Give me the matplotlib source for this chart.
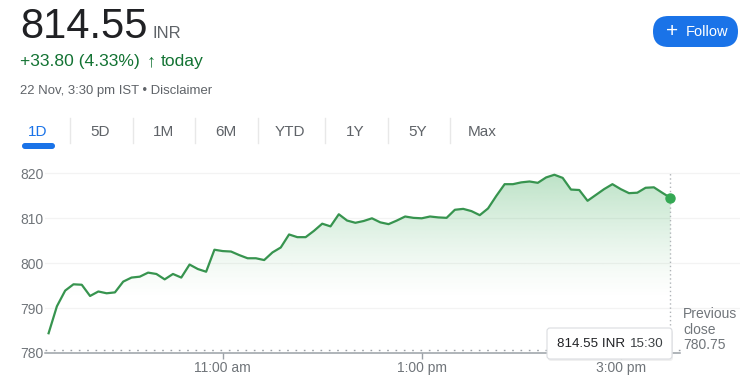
import numpy as np
import pandas as pd
import matplotlib
matplotlib.use("Agg")
import matplotlib.pyplot as plt
from matplotlib.patches import FancyBboxPatch, Polygon

plt.rcParams['font.family'] = ['Liberation Sans', 'DejaVu Sans']

# ---------------- data ----------------
times = pd.date_range("2023-11-22 09:15", "2023-11-22 15:30", freq="5min")
prices = [784.4, 790.4, 793.9, 795.3, 795.2, 792.7, 793.7, 793.3, 793.5, 795.9,
          796.8, 797.0, 797.9, 797.6, 796.4, 797.6, 796.8, 799.7, 798.7, 798.1,
          803.0, 802.7, 802.6, 801.8, 801.1, 801.1, 800.7, 802.4, 803.5, 806.4,
          805.8, 805.8, 807.2, 808.8, 808.2, 810.9, 809.5, 809.0, 809.4, 810.0,
          809.1, 808.7, 809.5, 810.4, 810.1, 810.0, 810.4, 810.2, 810.1, 811.9,
          812.1, 811.6, 810.7, 812.2, 815.0, 817.6, 817.6, 818.0, 818.2, 817.9,
          819.1, 819.7, 819.0, 816.4, 816.3, 813.9, 815.2, 816.5, 817.6, 816.5,
          815.6, 815.7, 816.8, 816.9, 815.7, 814.55]
prev_close = 780.75
last_price = "814.55"
change_text = "+33.80 (4.33%)"
date_text = "22 Nov, 3:30 pm IST \u2022 Disclaimer"
tabs = ["1D", "5D", "1M", "6M", "YTD", "1Y", "5Y", "Max"]
yticks = [780, 790, 800, 810, 820]
xtick_times = ["11:00", "13:00", "15:00"]
xtick_labels = ["11:00 am", "1:00 pm", "3:00 pm"]

start = times[0]
t = np.array([(x - start).total_seconds() / 60 for x in times])
p = np.array(prices)
xt = [(pd.Timestamp("2023-11-22 " + s) - start).total_seconds() / 60 for s in xtick_times]

W, H = 745, 381
fig = plt.figure(figsize=(W / 100, H / 100), dpi=100)
fig.patch.set_facecolor("white")

# chart axes in pixel layout
px_per_min = 1.6583
x0px = 48.6
left_px, right_px = 45, 740
top_px, bot_px = 165, 353
ax = fig.add_axes([left_px / W, (H - bot_px) / H, (right_px - left_px) / W, (bot_px - top_px) / H])
ax.set_zorder(1)
ax.set_facecolor("none")
ax.set_xlim((left_px - x0px) / px_per_min, (right_px - x0px) / px_per_min)
ymin = 780
ppu = 4.49
ax.set_ylim(ymin, ymin + (bot_px - top_px) / ppu)
for s in ax.spines.values():
    s.set_visible(False)

t_axis_end = (680 - x0px) / px_per_min
t_axis_start = (left_px - x0px) / px_per_min

# gridlines
for v in yticks[1:]:
    ax.axhline(v, color="#f3f3f3", lw=0.9, zorder=0)

# gradient fill
green = np.array([52, 168, 83]) / 255
yy = np.linspace(ymin, ax.get_ylim()[1], 300)
alpha = 0.33 * np.clip((yy - 792) / (820 - 792), 0, 1) ** 1.3
img = np.zeros((len(yy), 2, 4))
img[..., :3] = green
img[..., 3] = alpha[:, None]
im = ax.imshow(img, origin="lower", aspect="auto",
               extent=[t[0], t[-1], yy[0], yy[-1]], zorder=1, interpolation="bilinear")
verts = [(t[0], ymin)] + list(zip(t, p)) + [(t[-1], ymin)]
poly = Polygon(verts, closed=True, transform=ax.transData, facecolor="none", edgecolor="none")
ax.add_patch(poly)
im.set_clip_path(poly)

# prev close dotted line and axis line
ax.plot([t_axis_start, t_axis_end], [prev_close, prev_close], color="#9aa0a6",
        lw=1, ls=(0, (1.2, 4.8)), zorder=2)
ax.plot([t_axis_start, t_axis_end], [ymin, ymin], color="#9aa0a6", lw=1.1, zorder=2, clip_on=False)
# vertical dotted line at last point
ax.plot([t[-1], t[-1]], [prev_close, 820.2], color="#b0b4b8", lw=1, ls=(0, (1, 2)), zorder=2)

# price line
ax.plot(t, p, color="#37944f", lw=1.6, zorder=3, solid_joinstyle="round")
ax.plot([t[-1]], [p[-1]], "o", color="#34a853", ms=6.5, zorder=4, clip_on=False)

# ticks
ax.set_yticks(yticks)
ax.set_yticklabels([str(v) for v in yticks])
ax.tick_params(axis="y", length=0, pad=1, labelsize=10, labelcolor="#70757a")
ax.set_xticks(xt)
ax.set_xticklabels(xtick_labels)
ax.tick_params(axis="x", length=4.5, width=1, color="#9aa0a6", pad=1.5,
               labelsize=10, labelcolor="#70757a", direction="out")

# overlay axes (pixel coordinates)
ov = fig.add_axes([0, 0, 1, 1])
ov.set_zorder(2)
ov.set_facecolor("none")
ov.set_xlim(0, W)
ov.set_ylim(H, 0)
ov.axis("off")

ov.text(20, 38, last_price, fontsize=30, color="#202124", va="baseline", ha="left")
ov.text(153, 38, "INR", fontsize=12, color="#5f6368", va="baseline", ha="left")
ov.text(20, 66, change_text, fontsize=12.6, color="#137333", va="baseline", ha="left")
ov.text(147, 66, "\u2191", fontsize=13, color="#137333", va="baseline", ha="left", fontweight="bold")
ov.text(161, 66, "today", fontsize=12.6, color="#137333", va="baseline", ha="left")
ov.text(20, 94, date_text, fontsize=9.45, color="#5f6368", va="baseline", ha="left")

# tabs
tab_x = [38, 100, 163, 226, 290, 355, 418, 482]
sep_x = [70, 133, 195, 258, 325, 388, 450]
for lab, x in zip(tabs, tab_x):
    ov.text(x, 136.5, lab, fontsize=11, color="#1a73e8" if lab == "1D" else "#5f6368",
            ha="center", va="baseline")
for x in sep_x:
    ov.plot([x, x], [118, 143], color="#e8e8e8", lw=1)
ov.add_patch(FancyBboxPatch((22, 143), 33, 6, boxstyle="round,pad=0,rounding_size=3",
                            facecolor="#1a73e8", edgecolor="none"))

# follow button
ov.add_patch(FancyBboxPatch((653, 16), 85, 31, boxstyle="round,pad=0,rounding_size=15.5",
                            facecolor="#1a73e8", edgecolor="none"))
ov.text(672, 31.5, "+", fontsize=15, color="white", ha="center", va="center")
ov.text(686, 31.5, "Follow", fontsize=10.5, color="white", ha="left", va="center")

# tooltip
ov.add_patch(FancyBboxPatch((548, 330), 125, 31, boxstyle="round,pad=0,rounding_size=3",
                            facecolor="#e6e6e6", edgecolor="none", alpha=0.6))
ov.add_patch(FancyBboxPatch((547, 328), 125, 31, boxstyle="round,pad=0,rounding_size=3",
                            facecolor="white", edgecolor="#dadce0", lw=0.8))
ov.text(557, 344, "814.55 INR", fontsize=9.6, color="#202124", ha="left", va="center")
ov.text(630, 344, "15:30", fontsize=9.6, color="#3c4043", ha="left", va="center")

# previous close
for i, s in enumerate(["Previous", "close", "780.75"]):
    ov.text(683, 314 + i * 15.5, s, fontsize=10, color="#70757a", ha="left", va="center")

fig.savefig("out.png", dpi=100, facecolor="white")
